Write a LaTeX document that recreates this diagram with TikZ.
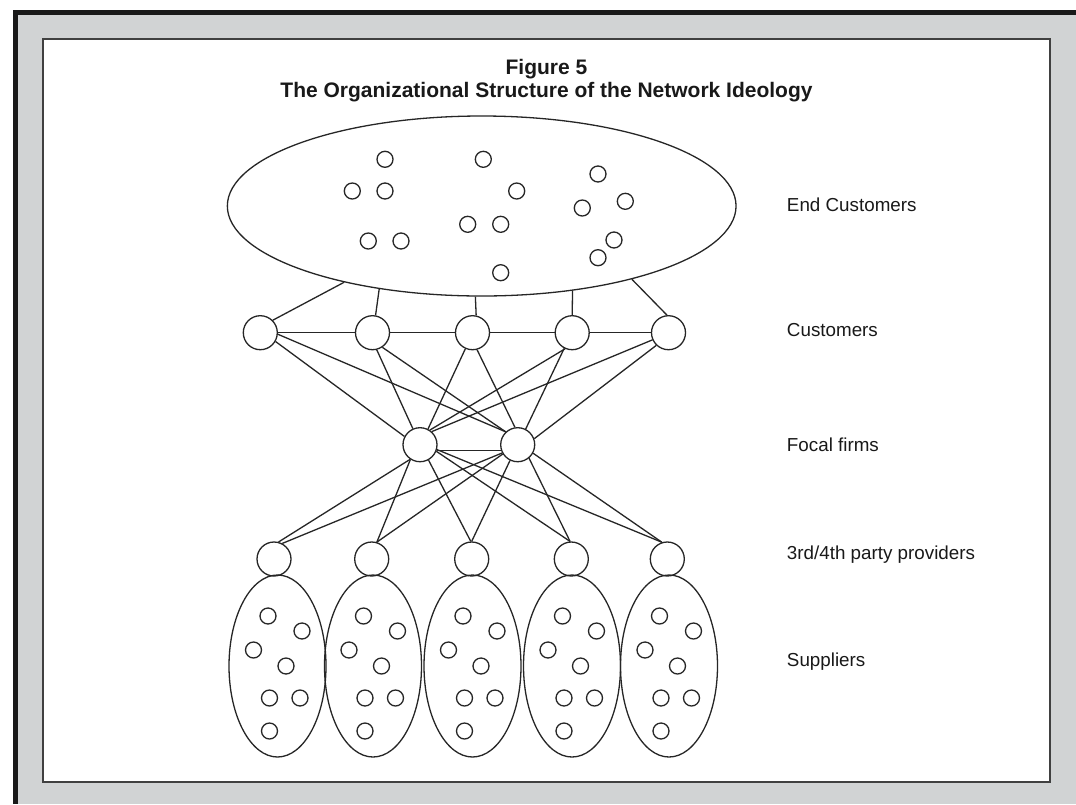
\documentclass[tikz,border=0pt]{standalone}
\usepackage{fontspec}
\setmainfont{Liberation Sans}
\usetikzlibrary{shapes.geometric}
\definecolor{framegray}{RGB}{209,211,212}
\def\supdots(#1,#2){\foreach \dx/\dy in {-9.5/-50,24.5/-35,-24/-16,8.5/0,-8/32,22.5/32,-8/65}{\draw ({#1+\dx},{#2+\dy}) circle (8);}}
\tikzset{
	firm/.style={draw, circle, minimum size=34pt, inner sep=0pt},
	supplierset/.style={draw, ellipse, inner sep=0pt, minimum width=97pt, minimum height=182pt},
	rowlabel/.style={anchor=base west, font=\fontsize{18.8}{22}\selectfont, text=black!90},
	figtitle/.style={anchor=base, font=\bfseries\fontsize{21}{25}\selectfont, text=black!90}
}

\begin{document}
\begin{tikzpicture}[x=1pt, y=-1pt, line width=1.3pt, draw=black!85]
		%%%%% FRAME %%%%%
		\useasboundingbox (0, 0) rectangle (1076, 804);
		\fill[framegray] (13, 10) rectangle (1076, 804);
		\fill[black!90] (13, 10) rectangle (1076, 15);
		\fill[black!90] (13, 10) rectangle (18, 804);
		\draw[fill=white, draw=black!75, line width=1.5pt] (43, 39) rectangle (1050, 782);
		
		\node[figtitle] (fig) at (546.5, 74) {Figure 5};
		\node[figtitle] (title) at (546.5, 97.5) {The Organizational Structure of the Network Ideology};
		
		%%%%% END CUSTOMERS %%%%%
		\node[draw, ellipse, inner sep=0pt, minimum width=508.7pt, minimum height=180pt] (endc) at (481.7, 206) {};
		\draw (385, 159.3) circle (8);  \draw (352.3, 191) circle (8);  \draw (385, 191) circle (8);
		\draw (368.3, 241) circle (8);  \draw (401, 241) circle (8);
		\draw (483.3, 159.3) circle (8);  \draw (516.7, 191) circle (8);  \draw (467.7, 224.3) circle (8);
		\draw (500.7, 224.3) circle (8);  \draw (500.7, 272.7) circle (8);
		\draw (598, 174) circle (8);  \draw (625.3, 201.3) circle (8);  \draw (582.3, 208) circle (8);
		\draw (614, 240) circle (8);  \draw (598, 257.7) circle (8);
		
		%%%%% CUSTOMERS, FOCAL FIRMS, PROVIDERS %%%%%
		\node[firm] (c1) at (260.3, 332.7) {};
		\node[firm] (c2) at (372.5, 332.7) {};
		\node[firm] (c3) at (472.5, 332.7) {};
		\node[firm] (c4) at (572.2, 332.7) {};
		\node[firm] (c5) at (668.5, 332.7) {};
		
		\node[firm] (f1) at (420, 444.7) {};
		\node[firm] (f2) at (517.7, 444.7) {};
		
		\node[firm] (p1) at (274, 559) {};
		\node[firm] (p2) at (371.7, 559) {};
		\node[firm] (p3) at (471.7, 559) {};
		\node[firm] (p4) at (571.3, 559) {};
		\node[firm] (p5) at (667.3, 559) {};
		
		%%%%% SUPPLIERS %%%%%
		\node[supplierset] (s1) at (277.5, 666) {};
		\node[supplierset] (s2) at (373, 666) {};
		\node[supplierset] (s3) at (472.5, 666) {};
		\node[supplierset] (s4) at (572, 666) {};
		\node[supplierset] (s5) at (669, 666) {};
		\supdots(277.5,666) \supdots(373,666) \supdots(472.5,666) \supdots(572,666) \supdots(669,666)
		
		%%%%% LINKS %%%%%
		\draw (endc.209) -- (c1.45);
		\draw (endc.219) -- (c2.80);
		\draw (endc.266) -- (c3.78);
		\draw (endc.317) -- (c4.90);
		\draw (endc.334) -- (c5.95);
		
		\draw (c1) -- (c2);
		\draw (c2) -- (c3);
		\draw (c3) -- (c4);
		\draw (c4) -- (c5);
		
		\draw (c1.-30) -- (f1.152);
		\draw (c1.-5) -- (f2.133);
		\draw (c2.-76) -- (f1.114);
		\draw (c2.-56) -- (f2.133);
		\draw (c3.-114) -- (f1.63);
		\draw (c3.-75) -- (f2.99);
		\draw (c4.-114) -- (f1.56);
		\draw (c4.-117) -- (f2.63);
		\draw (c5.-156) -- (f1.48);
		\draw (c5.-134) -- (f2.20);
		
		\draw (f1.-18) -- (f2.198);
		
		\draw (f1.-124) -- (p1.75);
		\draw (f2.-152) -- (p1.62);
		\draw (f1.-123) -- (p2.73);
		\draw (f2.-148) -- (p2.73);
		\draw (f1.-61) -- (p3.93);
		\draw (f2.-116) -- (p3.90);
		\draw (f1.-22) -- (p4.94);
		\draw (f2.-50) -- (p4.94);
		\draw (f1.-16) -- (p5.108);
		\draw (f2.-29) -- (p5.108);
		
		%%%%% LABELS %%%%%
		\node[rowlabel] (lend) at (783, 211.7) {End Customers};
		\node[rowlabel] (lcust) at (783, 336.7) {Customers};
		\node[rowlabel] (lfocal) at (783, 451.7) {Focal firms};
		\node[rowlabel] (lprov) at (783, 559.3) {3rd/4th party providers};
		\node[rowlabel] (lsupp) at (783, 666.7) {Suppliers};
		%%%%% END %%%%%
\end{tikzpicture}
\end{document}
